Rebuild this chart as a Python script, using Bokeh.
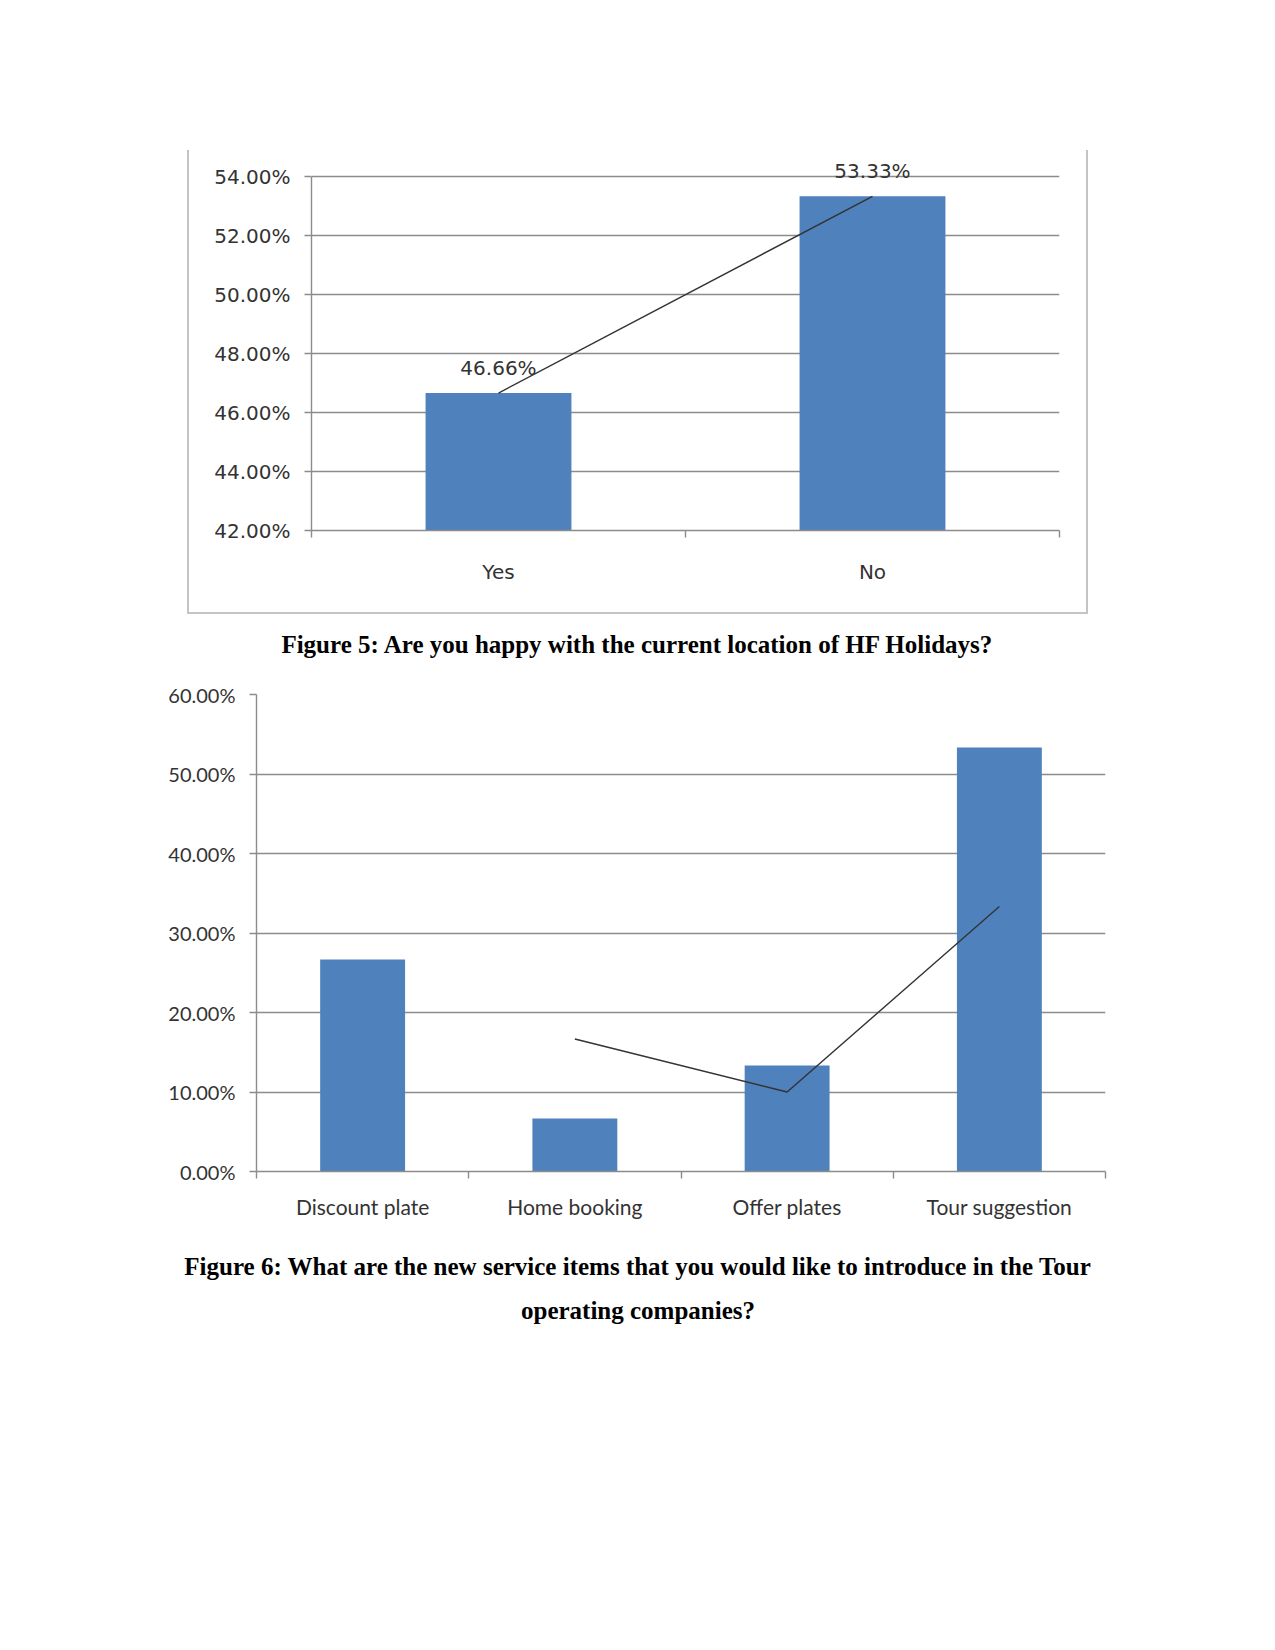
import numpy as np
from bokeh.plotting import figure
from bokeh.models import (Range1d, FixedTicker, PrintfTickFormatter, ColumnDataSource,
                          LabelSet, Label, Spacer)
from bokeh.core.properties import value
from bokeh.layouts import column, row
from bokeh.embed import file_html
from bokeh.resources import INLINE

# ---- Figure 5 data ----
f5_categories = ["Yes", "No"]
f5_values = [46.66, 53.33]
f5_value_labels = ["46.66%", "53.33%"]
f5_line = [46.66, 53.33]
f5_ticks = [42, 44, 46, 48, 50, 52, 54]
f5_caption = "Figure 5: Are you happy with the current location of HF Holidays?"

# ---- Figure 6 data ----
f6_categories = ["Discount plate", "Home booking", "Offer plates", "Tour suggestion"]
f6_values = [26.67, 6.67, 13.33, 53.33]
f6_line = [np.nan, 16.67, 10.0, 33.33]
f6_ticks = [0, 10, 20, 30, 40, 50, 60]
f6_caption = ["Figure 6: What are the new service items that you would like to introduce in the Tour",
              "operating companies?"]

BAR = "#4F81BD"
GRID = "#8c8c8c"
TXT = "#333333"
LINE = "#333333"


def bar_chart(cats, vals, line_vals, ticks, width, height, left, right, top, bottom,
              bar_w, font, ysize, xsize, ystandoff, xstandoff, top_pad_px=0):
    n = len(cats)
    centers = [i + 0.5 for i in range(n)]
    bounds = [float(i) for i in range(n + 1)]
    frame_h = height - top - bottom
    # extra headroom above the top tick (for data labels), same scale as the tick span
    span_px = frame_h - top_pad_px
    y_end = ticks[-1] + top_pad_px * (ticks[-1] - ticks[0]) / span_px
    p = figure(width=width, height=height, x_range=Range1d(0, n),
               y_range=Range1d(ticks[0], y_end), output_backend="svg",
               toolbar_location=None, min_border_left=left, min_border_right=right,
               min_border_top=top, min_border_bottom=bottom)
    p.outline_line_color = None
    p.background_fill_color = "white"
    p.border_fill_color = "white"
    p.vbar(x=centers, top=vals, bottom=ticks[0], width=bar_w, fill_color=BAR, line_color=None)
    p.line(x=centers, y=line_vals, line_color=LINE, line_width=1.4)

    p.xgrid.grid_line_color = None
    p.ygrid.grid_line_color = GRID
    p.ygrid.grid_line_width = 1.4
    p.ygrid.ticker = FixedTicker(ticks=ticks)

    ya = p.yaxis[0]
    ya.ticker = FixedTicker(ticks=ticks)
    ya.bounds = (ticks[0], ticks[-1])
    ya.formatter = PrintfTickFormatter(format="%.2f%%")
    ya.axis_line_color = GRID
    ya.axis_line_width = 1.4
    ya.major_tick_line_color = GRID
    ya.major_tick_line_width = 1.4
    ya.major_tick_out = 7
    ya.major_tick_in = 0
    ya.minor_tick_line_color = None
    ya.major_label_text_font = font
    ya.major_label_text_font_size = ysize
    ya.major_label_text_color = TXT
    ya.major_label_standoff = ystandoff

    xa = p.xaxis[0]
    xa.ticker = FixedTicker(ticks=centers, minor_ticks=bounds)
    xa.major_label_overrides = {c: name for c, name in zip(centers, cats)}
    xa.axis_line_color = GRID
    xa.axis_line_width = 1.4
    xa.major_tick_line_color = None
    xa.major_tick_out = 0
    xa.major_tick_in = 0
    xa.minor_tick_line_color = GRID
    xa.minor_tick_line_width = 1.4
    xa.minor_tick_out = 7
    xa.minor_tick_in = 0
    xa.major_label_text_font = font
    xa.major_label_text_font_size = xsize
    xa.major_label_text_color = TXT
    xa.major_label_standoff = xstandoff
    return p, centers


def caption_fig(lines, ys, height):
    c = figure(width=1275, height=height, x_range=Range1d(0, 1275), y_range=Range1d(0, height),
               output_backend="svg", toolbar_location=None, x_axis_type=None, y_axis_type=None,
               min_border=0)
    c.outline_line_color = None
    c.xgrid.visible = False
    c.ygrid.visible = False
    for t, y in zip(lines, ys):
        c.add_layout(Label(x=637.5, y=y, x_units="screen", y_units="screen", text=t,
                           text_align="center", text_baseline="middle",
                           text_font="Liberation Serif", text_font_style="bold",
                           text_font_size="25px", text_color="black"))
    return c


# Figure 5 chart (box spans x 187..1088, y 150..614); frame top at 152, 54% line at 176
p1, c1 = bar_chart(f5_categories, f5_values, f5_line, f5_ticks, 901, 464,
                   122, 31, 2, 84, 0.39, "DejaVu Sans", "20px", "20px", 14, 22, top_pad_px=24)
p1.styles = {"border-left": "2px solid #c4c4c4", "border-right": "2px solid #c4c4c4",
             "border-bottom": "2px solid #c4c4c4"}
src1 = ColumnDataSource(dict(x=c1, y=f5_values, t=f5_value_labels))
p1.add_layout(LabelSet(x="x", y="y", text="t", source=src1, y_offset=25,
                       text_align="center", text_baseline="middle",
                       text_font=value("DejaVu Sans"), text_font_size="20px", text_color=TXT))

# caption of figure 5: canvas y 614..670, text centre at 644
cap1 = caption_fig([f5_caption], [26], 56)

# Figure 6 chart; canvas y 670..1230, frame 694..1171
p2, c2 = bar_chart(f6_categories, f6_values, f6_line, f6_ticks, 1275, 560,
                   256, 170, 24, 59, 0.40, "Lato", "20px", "21px", 14, 15)

# caption of figure 6: canvas y 1230..1400, line centres at 1265.5 and 1309.5
cap2 = caption_fig(f6_caption, [134.5, 90.5], 170)

layout = column(
    Spacer(width=1275, height=150),
    row(Spacer(width=187, height=464), p1),
    row(Spacer(width=0, height=56), cap1),
    p2,
    row(Spacer(width=0, height=170), cap2),
    spacing=0,
)

open("out.html", "w").write(file_html(layout, INLINE))
